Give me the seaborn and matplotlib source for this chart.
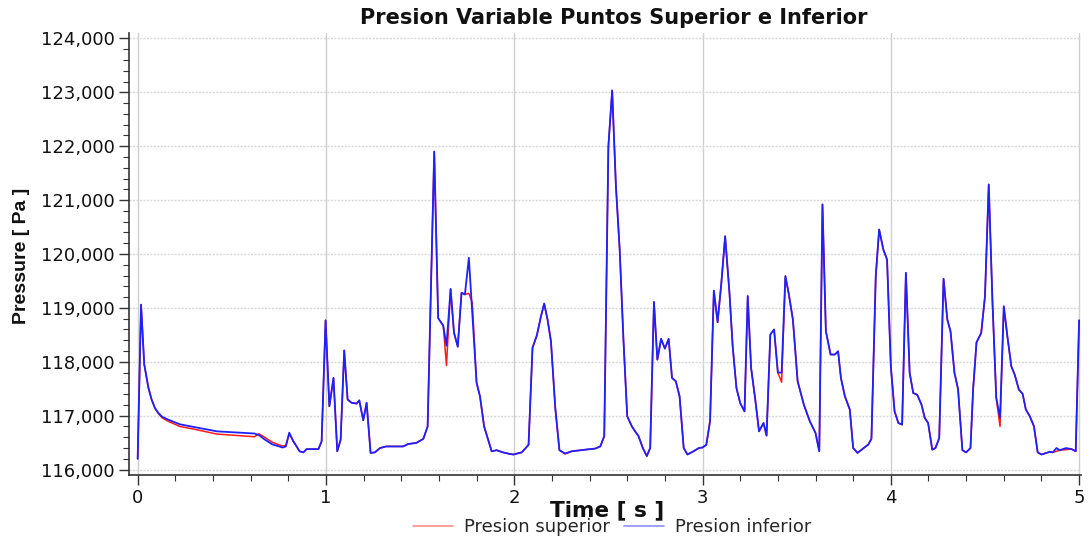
import numpy as np
import pandas as pd
import matplotlib
matplotlib.use('Agg')
import matplotlib.pyplot as plt
import seaborn as sns
from matplotlib.ticker import MultipleLocator, StrMethodFormatter

# tiempo [s]
time_s = [
    0.000, 0.018, 0.035, 0.057, 0.074, 0.092, 0.110, 0.130, 0.160, 0.225, 0.300, 0.420, 0.620,
    0.644, 0.670, 0.714, 0.770, 0.787, 0.805, 0.827, 0.860, 0.880, 0.897, 0.960, 0.977, 0.998,
    1.018, 1.040, 1.060, 1.078, 1.097, 1.115, 1.136, 1.163, 1.177, 1.198, 1.216, 1.237, 1.260,
    1.287, 1.320, 1.410, 1.437, 1.480, 1.517, 1.540, 1.575, 1.596, 1.623, 1.640, 1.662, 1.680,
    1.700, 1.720, 1.738, 1.759, 1.777, 1.800, 1.818, 1.840, 1.880, 1.906, 1.940, 1.977, 1.995,
    2.040, 2.076, 2.097, 2.120, 2.142, 2.159, 2.177, 2.195, 2.218, 2.240, 2.270, 2.306, 2.377,
    2.430, 2.457, 2.478, 2.500, 2.520, 2.540, 2.560, 2.580, 2.600, 2.625, 2.642, 2.660, 2.683,
    2.704, 2.722, 2.742, 2.760, 2.780, 2.800, 2.820, 2.838, 2.858, 2.878, 2.900, 2.920, 2.952, 2.980,
    3.000, 3.020, 3.040, 3.060, 3.080, 3.100, 3.120, 3.143, 3.160, 3.180, 3.200, 3.223, 3.240,
    3.258, 3.280, 3.300, 3.324, 3.340, 3.360, 3.380, 3.400, 3.420, 3.440, 3.458, 3.480, 3.505,
    3.538, 3.570, 3.600, 3.620, 3.637, 3.655, 3.680, 3.703, 3.720, 3.735, 3.756, 3.782, 3.800,
    3.823, 3.880, 3.897, 3.920, 3.938, 3.960, 3.980,
    4.000, 4.020, 4.040, 4.060, 4.080, 4.100, 4.119, 4.140, 4.163, 4.180, 4.198, 4.220, 4.237,
    4.257, 4.280, 4.300, 4.317, 4.338, 4.357, 4.380, 4.400, 4.423, 4.437, 4.455, 4.480, 4.500,
    4.520, 4.540, 4.560, 4.580, 4.600, 4.620, 4.640, 4.658, 4.680, 4.700, 4.717, 4.738, 4.760,
    4.780, 4.800, 4.826, 4.844, 4.860, 4.880, 4.897, 4.930, 4.960, 4.982, 5.000,
]

# presion punto inferior [Pa]
p_inferior = [
    116200, 119060, 117950, 117520, 117300, 117140, 117050, 116980, 116930, 116840, 116790, 116710, 116670,
    116640, 116570, 116470, 116410, 116430, 116685, 116525, 116340, 116320, 116380, 116380, 116525, 118770,
    117175, 117700, 116340, 116555, 118210, 117300, 117240, 117225, 117285, 116915, 117240, 116310, 116320,
    116400, 116430, 116430, 116475, 116495, 116570, 116800, 121900, 118810, 118670, 118300, 119350, 118540,
    118280, 119280, 119250, 119930, 118900, 117610, 117360, 116800, 116340, 116360, 116320, 116290, 116280,
    116320, 116460, 118260, 118490, 118845, 119080, 118780, 118380, 117140, 116360, 116300, 116340, 116370,
    116390, 116430, 116620, 122000, 123035, 121260, 120080, 118410, 116990, 116800, 116710, 116620, 116400,
    116250, 116400, 119110, 118040, 118425, 118245, 118425, 117700, 117640, 117360, 116400, 116280, 116340, 116400,
    116410, 116460, 116900, 119320, 118735, 119465, 120330, 119280, 118290, 117515, 117235, 117080, 119220,
    117885, 117300, 116710, 116865, 116630, 118505, 118600, 117800, 117800, 119590, 119260, 118780, 117640,
    117205, 116895, 116680, 116340, 120920, 118570, 118135, 118135, 118195, 117700, 117360, 117115, 116400,
    116310, 116465, 116570, 119590, 120455, 120085, 119895,
    117915, 117080, 116865, 116835, 119650, 117795, 117420, 117390, 117205, 116960, 116865, 116370, 116400,
    116585, 119540, 118785, 118565, 117795, 117495, 116360, 116320, 116400, 117485, 118360, 118535, 119215,
    121290, 119095, 117330, 116960, 119030, 118445, 117915, 117760, 117485, 117405, 117115, 116990, 116805,
    116320, 116280, 116310, 116330, 116320, 116400, 116360, 116400, 116380, 116340, 118770,
]

# presion punto superior [Pa]
p_superior = [
    116200, 119060, 117950, 117520, 117300, 117140, 117040, 116960, 116900, 116800, 116750, 116660, 116610,
    116665, 116610, 116510, 116435, 116450, 116660, 116525, 116340, 116320, 116380, 116380, 116525, 118770,
    117175, 117700, 116340, 116555, 118210, 117300, 117240, 117225, 117285, 116915, 117240, 116310, 116320,
    116400, 116430, 116430, 116475, 116495, 116570, 116800, 121900, 118810, 118670, 117930, 119350, 118540,
    118280, 119280, 119250, 119270, 119100, 117610, 117360, 116800, 116340, 116360, 116320, 116290, 116280,
    116320, 116460, 118260, 118490, 118845, 119080, 118780, 118380, 117140, 116360, 116290, 116340, 116370,
    116390, 116430, 116620, 122000, 123035, 121260, 120080, 118410, 116990, 116800, 116710, 116620, 116400,
    116250, 116400, 119110, 118040, 118425, 118245, 118425, 117700, 117640, 117360, 116400, 116280, 116340, 116400,
    116410, 116460, 116900, 119320, 118735, 119465, 120330, 119280, 118290, 117515, 117235, 117080, 119220,
    117885, 117300, 116710, 116865, 116630, 118505, 118600, 117800, 117620, 119590, 119260, 118780, 117640,
    117205, 116895, 116680, 116340, 120920, 118570, 118135, 118135, 118195, 117700, 117360, 117115, 116400,
    116310, 116465, 116570, 119590, 120455, 120085, 119895,
    117915, 117080, 116865, 116835, 119650, 117795, 117420, 117390, 117205, 116960, 116865, 116370, 116400,
    116585, 119540, 118785, 118565, 117795, 117495, 116360, 116320, 116400, 117485, 118360, 118535, 119215,
    121290, 119095, 117330, 116800, 119030, 118445, 117915, 117760, 117485, 117405, 117115, 116990, 116805,
    116320, 116280, 116310, 116330, 116320, 116340, 116360, 116370, 116380, 116340, 118770,
]

assert len(time_s) == len(p_inferior) == len(p_superior)

df = pd.DataFrame({'t': time_s, 'sup': p_superior, 'inf': p_inferior})

sns.set_theme(style='white')
plt.rcParams['font.family'] = ['DejaVu Sans']

fig = plt.figure(figsize=(10.92, 5.37), dpi=100)
ax = fig.add_axes([129/1092, 1 - 475/537, (1081 - 129)/1092, (475 - 33)/537])

sns.lineplot(data=df, x='t', y='sup', color='#ff1a1a', lw=1.1, ax=ax,
             label='Presion superior', estimator=None, sort=False)
sns.lineplot(data=df, x='t', y='inf', color='#2020ff', lw=1.3, ax=ax,
             label='Presion inferior', estimator=None, sort=False)

ax.set_xlim(-0.046, 5.01)
ax.set_ylim(115900, 124100)
ax.xaxis.set_major_locator(MultipleLocator(1))
ax.xaxis.set_minor_locator(MultipleLocator(0.2))
ax.yaxis.set_major_locator(MultipleLocator(1000))
ax.yaxis.set_minor_locator(MultipleLocator(200))
ax.yaxis.set_major_formatter(StrMethodFormatter('{x:,.0f}'))

ax.grid(axis='y', which='major', color='#d8d8d8', linestyle=(0, (1.5, 1)), lw=1)
ax.grid(axis='x', which='major', color='#cfcfcf', linestyle='-', lw=1)

for s in ['top', 'right']:
    ax.spines[s].set_visible(False)
for s in ['left', 'bottom']:
    ax.spines[s].set_color('#333333')
    ax.spines[s].set_linewidth(1.2)

ax.tick_params(axis='both', which='major', direction='out', length=7, width=1,
               color='#333333', labelsize=13, labelcolor='#111111', bottom=True, left=True, pad=3)
ax.tick_params(axis='both', which='minor', direction='out', length=4, width=0.8,
               color='#333333', bottom=True, left=True)

ax.set_xlabel('')
ax.set_ylabel('')
fig.text(614/1092, 1 - 18/537, 'Presion Variable Puntos Superior e Inferior',
         ha='center', va='center', fontsize=15, fontweight='bold', color='#111111')
fig.text(607/1092, 1 - 510/537, 'Time [ s ]', ha='center', va='center',
         fontsize=15.5, fontweight='bold', color='#111111')
# etiqueta Y mas angosta, como en el original
fig.text(22/1092, 1 - 256/537, 'Pressure [ Pa ]', ha='center', va='center', rotation=90,
         fontsize=14, fontweight='bold', color='#111111',
         family=['Liberation Sans', 'DejaVu Sans'])

handles, labels = ax.get_legend_handles_labels()
ax.get_legend().remove()
leg = fig.legend(handles, labels, loc='center', bbox_to_anchor=(612/1092, 1 - 527/537),
                 ncol=2, frameon=False, fontsize=13, handlelength=2.2,
                 columnspacing=0.8, handletextpad=0.6, borderpad=0.1)
for line in leg.get_lines():
    line.set_alpha(0.5)
    line.set_linewidth(1.2)

fig.savefig('out.png', dpi=100)
